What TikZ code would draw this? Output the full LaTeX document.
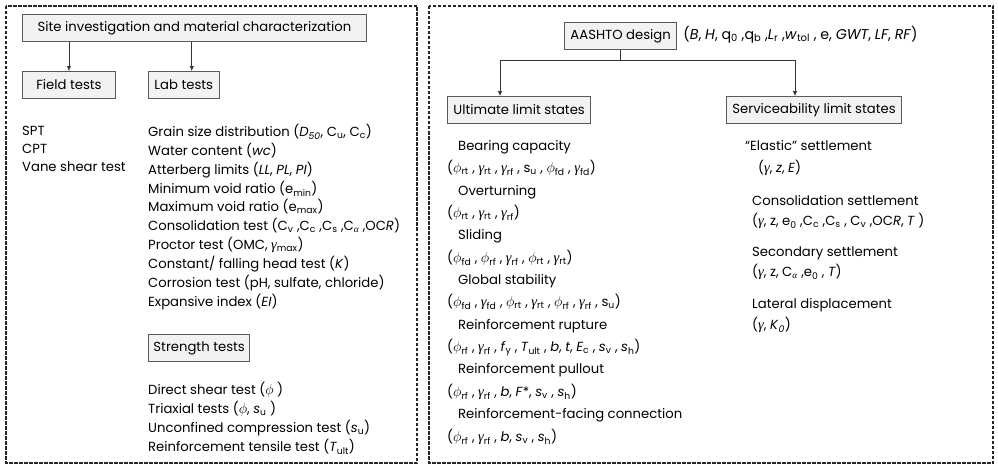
\documentclass[tikz,border=0pt]{standalone}
\usepackage{fontspec}
\setmainfont{Poppins}
\newfontfamily\grkfont{Liberation Serif}
\usetikzlibrary{arrows.meta}
\newcommand\sbx[1]{\textsubscript{#1}}
\newcommand\gph{{\fontsize{15.5}{16}\selectfont$\phi$}}
\newcommand\ggm{{\grkfont\itshape\fontsize{14.5}{15}\selectfont γ}}
\newcommand\gal{{\grkfont\itshape α}}
\begin{document}
\begin{tikzpicture}[x=1pt,y=-1pt,
  every node/.style={font=\fontsize{13.2}{15}\selectfont},
  hbox/.style={draw=black!65, fill=black!5, line width=0.9pt, inner xsep=6pt, minimum height=27pt, anchor=west},
  txt/.style={anchor=west, inner sep=0pt, text height=10pt, text depth=3pt},
  panel/.style={draw=black!85, line width=1.1pt, dash pattern=on 3.5pt off 1.5pt},
  arr/.style={-{Latex[length=5pt,width=4.5pt]}, line width=0.7pt, draw=black!80}]
\useasboundingbox (0,0) rectangle (998,468);
\draw[panel] (6,6) rectangle (417,463);
\draw[panel] (429,6) rectangle (993,463);
% left panel
\node[hbox, minimum width=344pt] (site) at (22,28) {Site investigation and material characterization};
\node[hbox, minimum width=93pt] (field) at (22,85) {Field tests};
\node[hbox, minimum width=67pt] (lab) at (148,85) {Lab tests};
\draw[arr] (field.north |- site.south) -- (field.north);
\draw[arr] ([xshift=8pt]lab.north |- site.south) -- ([xshift=8pt]lab.north);
\node[txt] (spt) at (22,132) {SPT};
\node[txt] (cpt) at (22,150) {CPT};
\node[txt] (vane) at (22,168) {Vane shear test};
\node[txt] (l1) at (148,133) {Grain size distribution (\textit{D}\sbx{\textit{50}}, C\sbx{u}, C\sbx{c})};
\node[txt] (l2) at (148,152) {Water content (\textit{wc})};
\node[txt] (l3) at (148,171) {Atterberg limits (\textit{LL}, \textit{PL}, \textit{PI})};
\node[txt] (l4) at (148,190) {Minimum void ratio (e\sbx{min})};
\node[txt] (l5) at (148,208) {Maximum void ratio (e\sbx{max})};
\node[txt] (l6) at (148,227) {Consolidation test (C\sbx{v} ,C\sbx{c} ,C\sbx{s} ,C\sbx{\gal} ,OC\textit{R})};
\node[txt] (l7) at (148,246) {Proctor test (OMC, \ggm\sbx{max})};
\node[txt] (l8) at (148,265) {Constant/ falling head test (\textit{K})};
\node[txt] (l9) at (148,284) {Corrosion test (pH, sulfate, chloride)};
\node[txt] (l10) at (148,303) {Expansive index (\textit{EI})};
\node[hbox, inner xsep=5pt] (str) at (148,348) {Strength tests};
\node[txt] (s1) at (148,391) {Direct shear test (\gph\ )};
\node[txt] (s2) at (148,410) {Triaxial tests (\gph, \textit{s}\sbx{u} )};
\node[txt] (s3) at (148,429) {Unconfined compression test (\textit{s}\sbx{u})};
\node[txt] (s4) at (148,448) {Reinforcement tensile test (\textit{T}\sbx{ult})};
% right panel
\node[hbox] (aashto) at (564,36) {AASHTO design};
\node[txt, font=\fontsize{14.2}{15}\selectfont] (prm) at ([xshift=6pt]aashto.east) {(\textit{B}, \textit{H}, q\sbx{0} ,q\sbx{b} ,\textit{L}\sbx{r} ,\textit{w}\sbx{tol} , e, \textit{GWT}, \textit{LF}, \textit{RF})};
\node[hbox] (ult) at (447,110) {Ultimate limit states};
\node[hbox] (srv) at (726,110) {Serviceability limit states};
\coordinate (j) at ([yshift=-10pt]aashto.south);
\coordinate (ax) at (500,0);
\coordinate (bx) at (795,0);
\draw[line width=0.7pt, draw=black!80] (aashto.south) -- (j);
\draw[arr] (j) -| (ult.north -| ax);
\draw[arr] (j) -| (srv.north -| bx);
\node[txt] (u1) at (458,147) {Bearing capacity};
\node[txt] (u1p) at (447,169) {(\gph\sbx{rt} , \ggm\sbx{rt} , \ggm\sbx{rf} , s\sbx{u} , \gph\sbx{fd} , \ggm\sbx{fd})};
\node[txt] (u2) at (458,192) {Overturning};
\node[txt] (u2p) at (447,214) {(\gph\sbx{rt} , \ggm\sbx{rt} , \ggm\sbx{rf})};
\node[txt] (u3) at (458,236) {Sliding};
\node[txt] (u3p) at (447,259) {(\gph\sbx{fd} , \gph\sbx{rf} , \ggm\sbx{rf} , \gph\sbx{rt} , \ggm\sbx{rt})};
\node[txt] (u4) at (458,281) {Global stability};
\node[txt] (u4p) at (447,303) {(\gph\sbx{fd} , \ggm\sbx{fd} , \gph\sbx{rt} , \ggm\sbx{rt} , \gph\sbx{rf} , \ggm\sbx{rf} , s\sbx{u})};
\node[txt] (u5) at (458,326) {Reinforcement rupture};
\node[txt] (u5p) at (447,348) {(\gph\sbx{rf} , \ggm\sbx{rf} , \textit{f}\sbx{y} , \textit{T}\sbx{ult} , \textit{b}, \textit{t}, \textit{E}\sbx{c} , \textit{s}\sbx{v} , \textit{s}\sbx{h})};
\node[txt] (u6) at (458,370) {Reinforcement pullout};
\node[txt] (u6p) at (447,393) {(\gph\sbx{rf} , \ggm\sbx{rf} , \textit{b}, \textit{F}*, \textit{s}\sbx{v} , \textit{s}\sbx{h})};
\node[txt] (u7) at (458,415) {Reinforcement-facing connection};
\node[txt] (u7p) at (447,438) {(\gph\sbx{rf} , \ggm\sbx{rf} , \textit{b}, \textit{s}\sbx{v} , \textit{s}\sbx{h})};
\node[txt] (v1) at (745,147) {“Elastic” settlement};
\node[txt] (v1p) at (758,169) {(\ggm, \textit{z}, \textit{E})};
\node[txt] (v2) at (752,202) {Consolidation settlement};
\node[txt] (v2p) at (752,222) {(\ggm, z, e\sbx{0} ,C\sbx{c} ,C\sbx{s} , C\sbx{v} ,OC\textit{R}, \textit{T} )};
\node[txt] (v3) at (752,253) {Secondary settlement};
\node[txt] (v3p) at (752,273) {(\ggm, z, C\sbx{\gal} ,e\sbx{0} , \textit{T})};
\node[txt] (v4) at (752,305) {Lateral displacement};
\node[txt] (v4p) at (752,326) {(\ggm, \textit{K}\sbx{\textit{0}})};
\end{tikzpicture}
\end{document}
